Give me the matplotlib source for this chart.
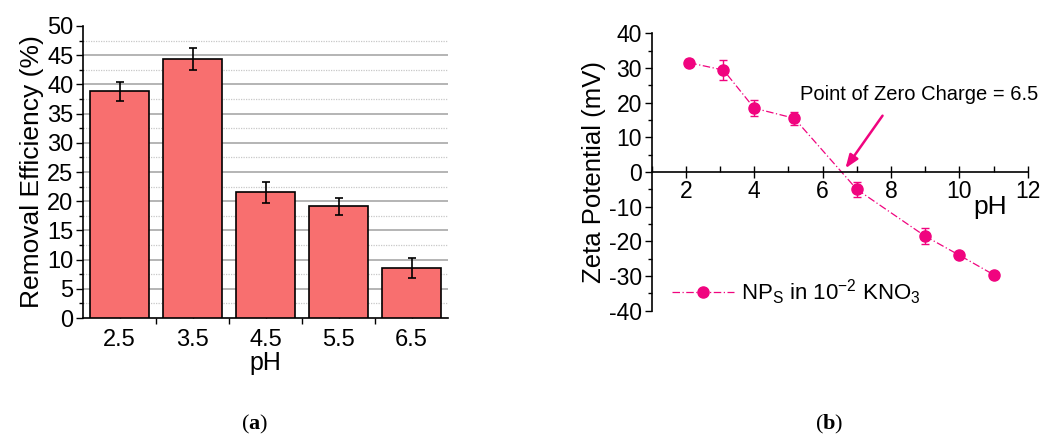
import numpy as np
import matplotlib
matplotlib.use('Agg')
import matplotlib.pyplot as plt
from matplotlib.ticker import MultipleLocator, FixedLocator

plt.rcParams['font.family'] = ['Liberation Sans', 'DejaVu Sans']
plt.rcParams['mathtext.fontset'] = 'custom'
plt.rcParams['mathtext.bf'] = 'Liberation Serif:bold'
plt.rcParams['mathtext.rm'] = 'Liberation Sans'
plt.rcParams['axes.unicode_minus'] = False

# (a) removal efficiency vs pH
ph_labels = ['2.5', '3.5', '4.5', '5.5', '6.5']
removal = [38.8, 44.3, 21.5, 19.1, 8.5]
removal_err = [1.6, 1.9, 1.8, 1.5, 1.7]

# (b) zeta potential vs pH
zeta_ph = [2.1, 3.1, 4.0, 5.17, 7.0, 9.0, 10.0, 11.0]
zeta = [31.5, 29.4, 18.4, 15.5, -5.0, -18.5, -24.0, -29.6]
zeta_err = [1.0, 2.8, 2.3, 1.8, 2.1, 2.3, 0.6, 0.6]

pink = '#f0047f'

fig = plt.figure(figsize=(10.52, 4.36), dpi=100)

# ---- left panel ----
ax1 = fig.add_axes([0.0789, 0.2706, 0.347, 0.6698])
xpos = np.arange(1, len(removal) + 1)
ax1.bar(xpos, removal, width=0.8, color='#f86f6f', edgecolor='black',
        linewidth=1.2, zorder=3)
ax1.errorbar(xpos, removal, yerr=removal_err, fmt='none', ecolor='black',
             elinewidth=1.2, capsize=3, capthick=1.2, zorder=4)
ax1.set_xlim(0.5, 5.5)
ax1.set_ylim(0, 50)
ax1.set_xticks(xpos)
ax1.set_xticklabels(ph_labels)
ax1.xaxis.set_minor_locator(FixedLocator(np.arange(1.5, 5.0, 1.0)))
ax1.yaxis.set_major_locator(MultipleLocator(5))
ax1.yaxis.set_minor_locator(MultipleLocator(2.5))
ax1.tick_params(axis='x', which='major', direction='in', length=5, width=1,
                labelsize=17, pad=8)
ax1.tick_params(axis='x', which='minor', direction='out', length=4, width=1)
ax1.tick_params(axis='y', which='major', direction='out', length=5, width=1,
                labelsize=17, pad=2)
ax1.tick_params(axis='y', which='minor', direction='out', length=3, width=1)
for spn in ['top', 'right']:
    ax1.spines[spn].set_visible(False)
for spn in ['left', 'bottom']:
    ax1.spines[spn].set_linewidth(1.2)
for v in np.arange(5, 50, 5):
    ax1.axhline(v, color='#a8a8a8', lw=1.2, zorder=1)
for v in np.arange(2.5, 50, 5):
    ax1.axhline(v, color='#c8c8c8', lw=0.9, ls=(0, (1, 1)), zorder=1)
ax1.set_ylabel('Removal Efficiency (%)', fontsize=19, labelpad=2)
ax1.set_xlabel('pH', fontsize=18, labelpad=0)

# ---- right panel ----
ax2 = fig.add_axes([0.6195, 0.2874, 0.3574, 0.6362])
ax2.errorbar(zeta_ph, zeta, yerr=zeta_err, fmt='none', ecolor=pink,
             elinewidth=1, capsize=3, capthick=1)
ax2.plot(zeta_ph, zeta, color=pink, lw=0.9, ls=(0, (6, 2, 1, 2)),
         marker='o', markersize=8,
         label=r'NP$_\mathregular{S}$ in 10$^\mathregular{-2}$ KNO$_\mathregular{3}$')
ax2.set_xlim(1, 12)
ax2.set_ylim(-40, 40)
ax2.spines['bottom'].set_position(('data', 0))
for spn in ['top', 'right']:
    ax2.spines[spn].set_visible(False)
for spn in ['left', 'bottom']:
    ax2.spines[spn].set_linewidth(1.2)
ax2.xaxis.set_major_locator(MultipleLocator(2))
ax2.xaxis.set_minor_locator(MultipleLocator(1))
ax2.yaxis.set_major_locator(MultipleLocator(10))
ax2.yaxis.set_minor_locator(MultipleLocator(5))
ax2.set_xticks([2, 4, 6, 8, 10, 12])
ax2.tick_params(axis='x', which='major', direction='inout', length=8, width=1,
                labelsize=16.5, pad=2)
ax2.tick_params(axis='x', which='minor', direction='in', length=4, width=1)
ax2.tick_params(axis='y', which='major', direction='out', length=5, width=1,
                labelsize=16.5, pad=2)
ax2.tick_params(axis='y', which='minor', direction='out', length=3, width=1)
ax2.set_ylabel('Zeta Potential (mV)', fontsize=18.5, labelpad=2)
ax2.text(10.9, -10, 'pH', fontsize=19, ha='center', va='center')

ax2.annotate('Point of Zero Charge = 6.5', xy=(6.62, 0.4), xytext=(5.35, 22.3),
             fontsize=14.5, va='center', ha='left')
ax2.annotate('', xy=(6.62, 0.4), xytext=(7.8, 16.9),
             arrowprops=dict(arrowstyle='-|>,head_length=0.8,head_width=0.3',
                             color=pink, lw=1.8))

ax2.legend(loc='lower left', bbox_to_anchor=(0.0, -0.06), frameon=False,
           fontsize=16, handlelength=2.8, handletextpad=0.3)

fig.text(0.2424, 0.027, r'($\mathbf{a}$)', fontsize=16, ha='center',
         va='center', family='Liberation Serif')
fig.text(0.788, 0.027, r'($\mathbf{b}$)', fontsize=16, ha='center',
         va='center', family='Liberation Serif')

fig.savefig('out.png', dpi=100)
